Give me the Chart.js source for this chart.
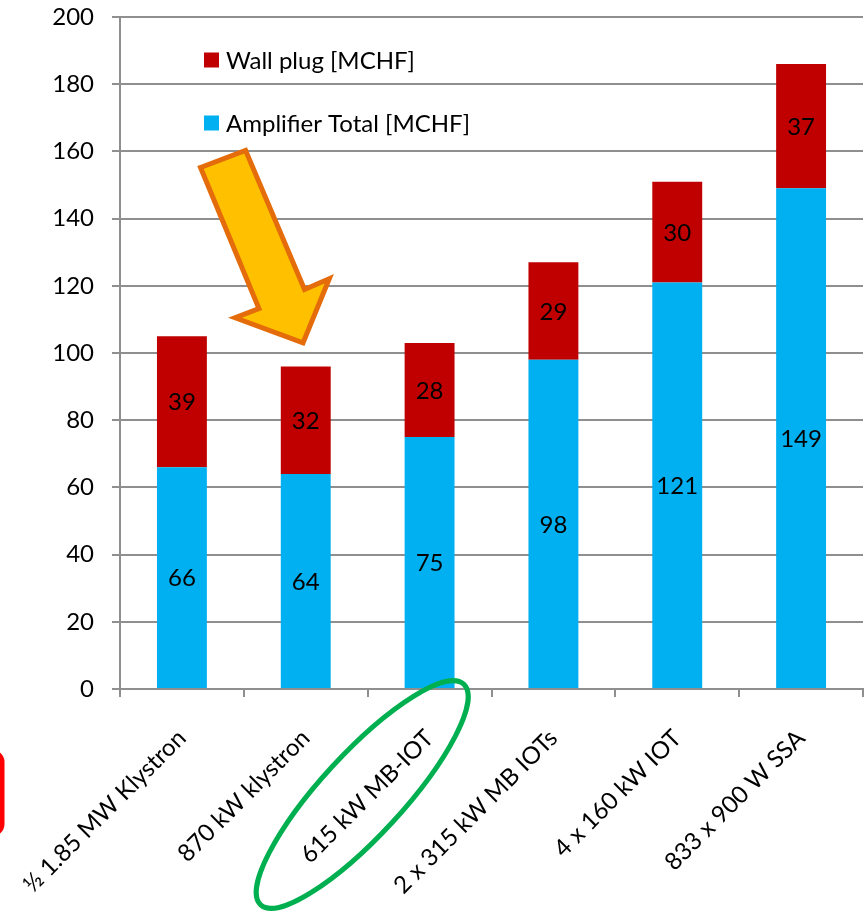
<!DOCTYPE html>
<html>
<head>
<meta charset="utf-8">
<script src="https://cdn.jsdelivr.net/npm/chart.js@4.4.1/dist/chart.umd.min.js"></script>
<style>
  html, body { margin: 0; padding: 0; background: #ffffff; }
  canvas { display: block; }
</style>
</head>
<body>
<canvas id="chart" width="864" height="915"></canvas>
<script>
// Cost of RF amplifier options, stacked: amplifier total + wall plug (MCHF)
const categories = [
  '½ 1.85 MW Klystron',
  '870 kW klystron',
  '615 kW MB-IOT',
  '2 x 315 kW MB IOTs',
  '4 x 160 kW IOT',
  '833 x 900 W SSA'
];
const amplifierTotal = [66, 64, 75, 98, 121, 149];
const wallPlug = [39, 32, 28, 29, 30, 37];
const seriesNames = ['Amplifier Total [MCHF]', 'Wall plug [MCHF]'];
const yMin = 0, yMax = 200, yStep = 20;

const FONT = 'Lato, "Open Sans", sans-serif';
const FONT_SIZE = 24;
const BLUE = '#00B0F0';
const RED = '#C00000';
const GRID = '#8f8f8f';

Chart.defaults.font.family = FONT;
Chart.defaults.font.size = FONT_SIZE;
Chart.defaults.color = '#000000';

// Numbers written in the middle of every stacked segment
const segmentLabels = {
  id: 'segmentLabels',
  afterDatasetsDraw(chart) {
    const ctx = chart.ctx;
    ctx.save();
    ctx.font = FONT_SIZE + 'px ' + FONT;
    ctx.fillStyle = '#000000';
    ctx.textAlign = 'center';
    ctx.textBaseline = 'middle';
    chart.data.datasets.forEach((ds, di) => {
      chart.getDatasetMeta(di).data.forEach((bar, i) => {
        ctx.fillText(String(ds.data[i]), bar.x, (bar.y + bar.base) / 2 + 1);
      });
    });
    ctx.restore();
  }
};

// Legend sitting inside the plot, top-left, wall plug listed first
const insideLegend = {
  id: 'insideLegend',
  afterDatasetsDraw(chart) {
    const ctx = chart.ctx;
    const a = chart.chartArea;
    const entries = [
      { text: seriesNames[1], color: RED, dy: 43 },
      { text: seriesNames[0], color: BLUE, dy: 106 }
    ];
    ctx.save();
    ctx.font = FONT_SIZE + 'px ' + FONT;
    ctx.textBaseline = 'middle';
    ctx.textAlign = 'left';
    entries.forEach(e => {
      const cy = a.top + e.dy;
      ctx.fillStyle = e.color;
      ctx.fillRect(a.left + 84, cy - 7.5, 15, 15);
      ctx.fillStyle = '#000000';
      ctx.fillText(e.text, a.left + 106, cy + 1);
    });
    ctx.restore();
  }
};

// Highlight shapes: block arrow toward the 870 kW bar, ellipse round the
// 615 kW MB-IOT label, and the edge of a red frame at the far left
const highlights = {
  id: 'highlights',
  afterDraw(chart) {
    const ctx = chart.ctx;
    const xs = chart.scales.x, ys = chart.scales.y;
    const step = xs.getPixelForValue(1) - xs.getPixelForValue(0);
    const px = c => xs.getPixelForValue(0) + c * step;
    const py = v => ys.getPixelForValue(v);

    // block arrow, points in (category position, value) terms
    const arrow = [
      [0.150, 155.2], [0.514, 160.3], [0.990, 118.9], [1.190, 122.1],
      [0.978, 103.0], [0.430, 110.5], [0.622, 113.2]
    ];
    ctx.save();
    ctx.beginPath();
    arrow.forEach((p, i) => {
      const X = px(p[0]), Y = py(p[1]);
      if (i === 0) ctx.moveTo(X, Y); else ctx.lineTo(X, Y);
    });
    ctx.closePath();
    ctx.fillStyle = '#FFC000';
    ctx.fill();
    ctx.lineWidth = 5;
    ctx.lineJoin = 'miter';
    ctx.strokeStyle = '#E46C0A';
    ctx.stroke();
    ctx.restore();

    // ellipse round the third category label
    const b = chart.chartArea.bottom;
    ctx.save();
    ctx.beginPath();
    ctx.ellipse(px(1.456), b + 105.5, 150, 41, -47.4 * Math.PI / 180, 0, Math.PI * 2);
    ctx.lineWidth = 5;
    ctx.strokeStyle = '#00B050';
    ctx.stroke();
    ctx.restore();

    // red frame edge at the left border
    ctx.save();
    ctx.beginPath();
    ctx.roundRect(-60, 752, 62, 82, 10);
    ctx.lineWidth = 5;
    ctx.strokeStyle = '#FF0000';
    ctx.stroke();
    ctx.restore();
  }
};

new Chart(document.getElementById('chart'), {
  type: 'bar',
  data: {
    labels: categories,
    datasets: [
      { label: seriesNames[0], data: amplifierTotal, backgroundColor: BLUE, stack: 's' },
      { label: seriesNames[1], data: wallPlug, backgroundColor: RED, stack: 's' }
    ]
  },
  options: {
    responsive: false,
    animation: false,
    devicePixelRatio: 1,
    layout: { padding: { top: 17, right: 1, left: 0, bottom: 0 } },
    plugins: { legend: { display: false }, tooltip: { enabled: false } },
    datasets: { bar: { categoryPercentage: 1, barPercentage: 0.403 } },
    scales: {
      x: {
        stacked: true,
        grid: { drawOnChartArea: false, drawTicks: true, tickLength: 8, color: GRID, lineWidth: 2, offset: true },
        border: { color: GRID, width: 2 },
        ticks: { minRotation: 45, maxRotation: 45, autoSkip: false, padding: 27, color: '#000' },
        afterFit(s) { s.height = 226; s.paddingLeft = 0; s.paddingRight = 0; }
      },
      y: {
        stacked: true,
        min: yMin, max: yMax,
        ticks: { stepSize: yStep, padding: 18, color: '#000' },
        grid: { color: GRID, lineWidth: 2, tickLength: 8 },
        border: { color: GRID, width: 2 },
        afterFit(s) { s.width = 120; s.paddingTop = 0; s.paddingBottom = 0; }
      }
    }
  },
  plugins: [segmentLabels, insideLegend, highlights]
});
</script>
</body>
</html>
